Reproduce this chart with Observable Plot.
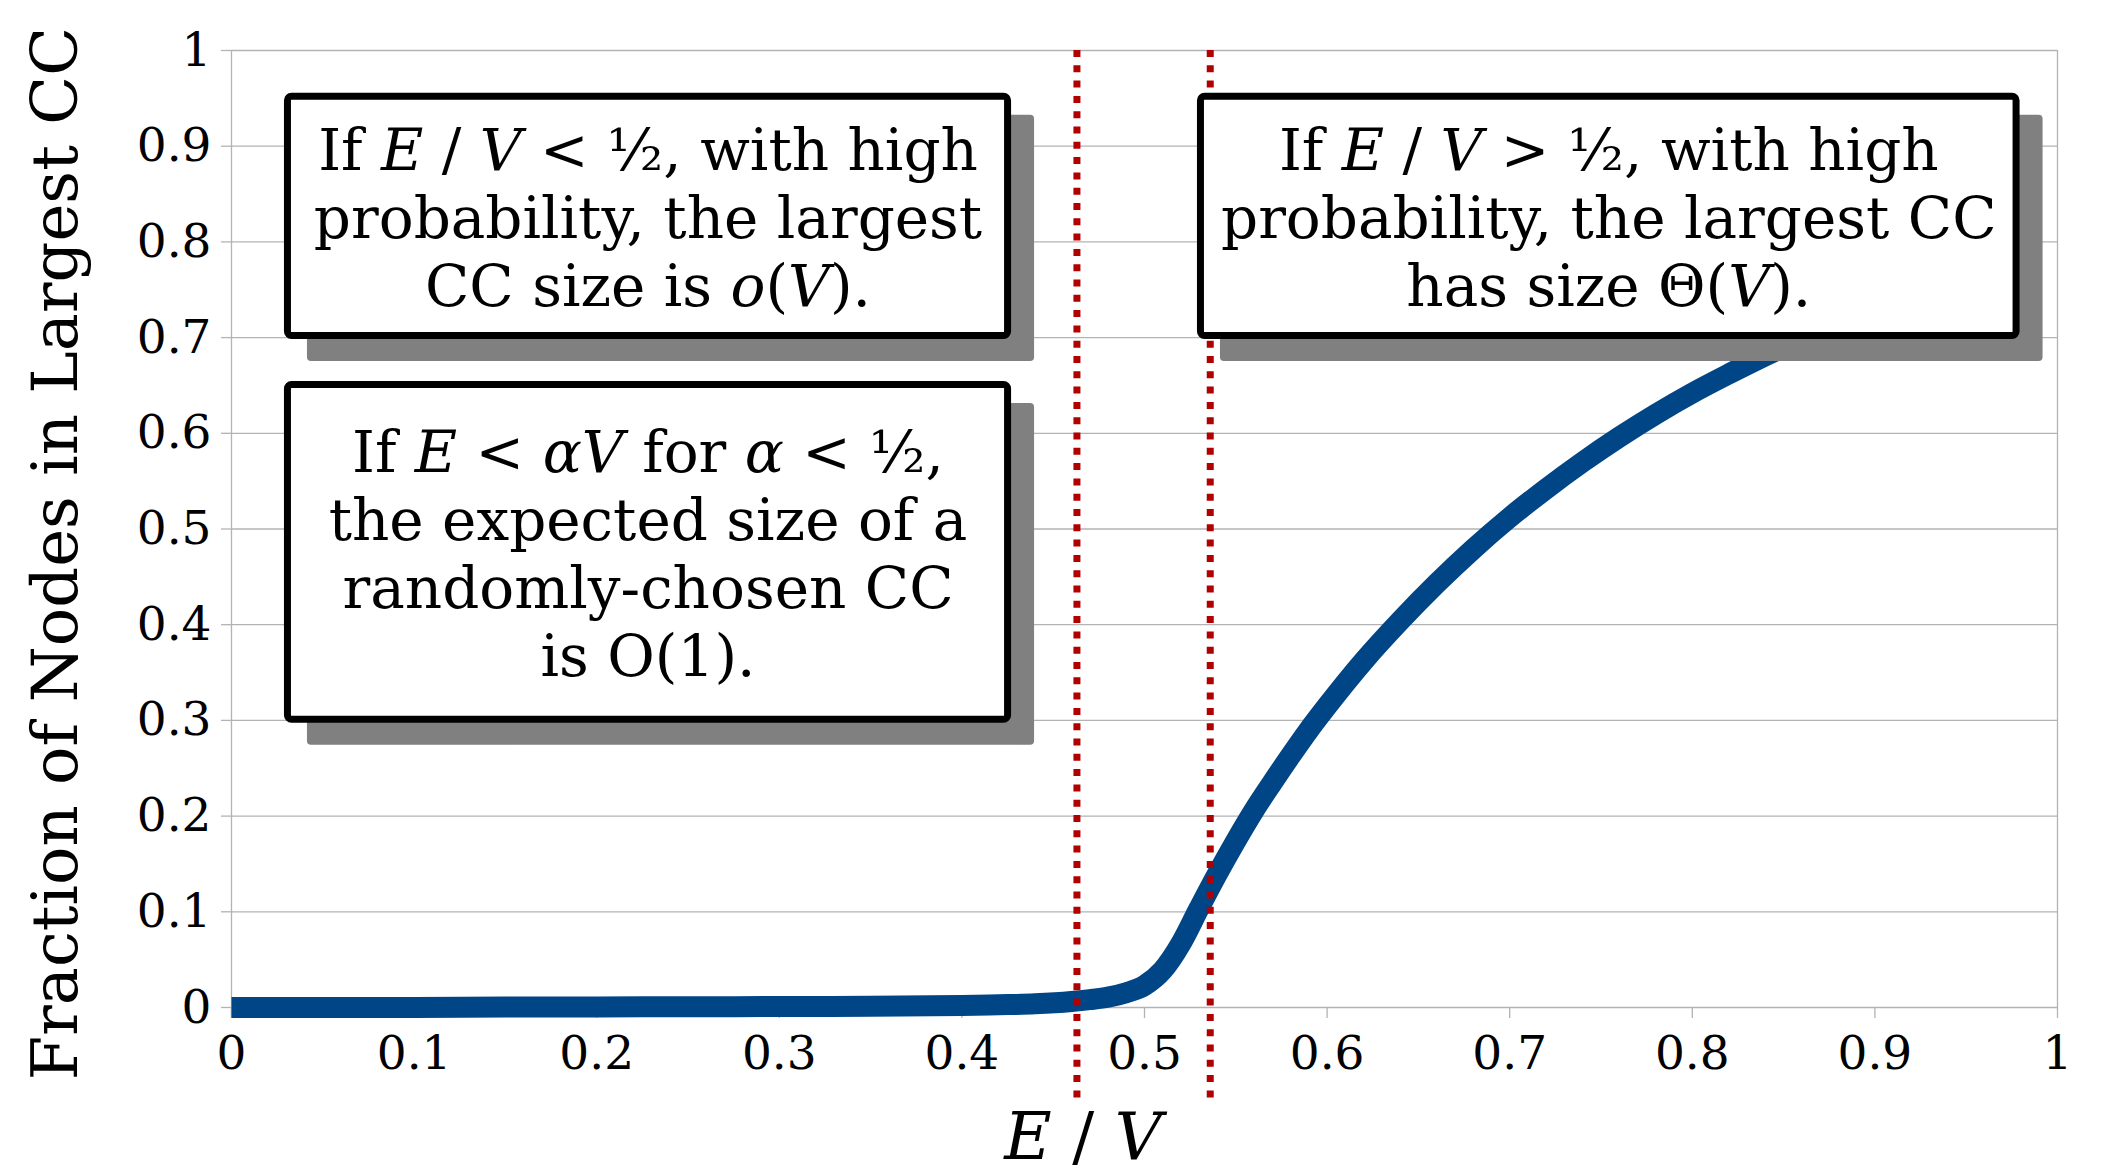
<!DOCTYPE html>
<html>
<head>
<meta charset="utf-8">
<script src="https://cdn.jsdelivr.net/npm/d3@7"></script>
<script src="https://cdn.jsdelivr.net/npm/@observablehq/plot@0.6"></script>
<style>
  html, body { margin: 0; padding: 0; background: #ffffff; }
  #chart svg { display: block; }
</style>
</head>
<body>
<div id="chart"></div>
<script>
// ---- data ----
const edgeRatio = [0, 0.05, 0.1, 0.15, 0.2, 0.25, 0.3, 0.35, 0.4, 0.42, 0.44, 0.46, 0.47, 0.48, 0.49, 0.5,
  0.51, 0.52, 0.53, 0.54, 0.55, 0.56, 0.57, 0.58, 0.59, 0.6, 0.62, 0.64, 0.66, 0.68, 0.7, 0.72, 0.74,
  0.76, 0.78, 0.8, 0.82, 0.84, 0.86, 0.88, 0.9, 0.92, 0.94, 0.96];
const ccFraction = [0, 0, 0, 0.0005, 0.0006, 0.0008, 0.001, 0.0013, 0.002, 0.0028, 0.0038, 0.0062, 0.0082, 0.0108, 0.0155, 0.023,
  0.039, 0.067, 0.104, 0.14, 0.174, 0.206, 0.235, 0.263, 0.290, 0.315, 0.362, 0.404, 0.443, 0.479, 0.512, 0.542, 0.570,
  0.596, 0.620, 0.642, 0.662, 0.681, 0.699, 0.716, 0.732, 0.747, 0.761, 0.774];

const xTicks = [0, 0.1, 0.2, 0.3, 0.4, 0.5, 0.6, 0.7, 0.8, 0.9, 1];
const xTickLabels = ["0", "0.1", "0.2", "0.3", "0.4", "0.5", "0.6", "0.7", "0.8", "0.9", "1"];
const yTicks = [0, 0.1, 0.2, 0.3, 0.4, 0.5, 0.6, 0.7, 0.8, 0.9, 1];
const yTickLabels = ["0", "0.1", "0.2", "0.3", "0.4", "0.5", "0.6", "0.7", "0.8", "0.9", "1"];

const thresholds = [0.463, 0.536];

const xLabel = "*E* / *V*";
const yLabel = "Fraction of Nodes in Largest CC";

// annotation texts (*...* = italic)
const noteTexts = [
  "If *E* / *V* < ½, with high\nprobability, the largest\nCC size is *o*(*V*).",
  "If *E* < *αV* for *α* < ½,\nthe expected size of a\nrandomly-chosen CC\nis O(1).",
  "If *E* / *V* > ½, with high\nprobability, the largest CC\nhas size Θ(*V*)."
];
// annotation placement (data units)
const noteLeft = [0.029, 0.029, 0.529];
const noteRight = [0.4272, 0.4272, 0.9795];
const noteTop = [0.9554, 0.6541, 0.9554];
const noteBottom = [0.698, 0.2971, 0.698];

// ---- build tables ----
const curve = edgeRatio.map((x, i) => ({x, y: ccFraction[i]}));
const notes = noteTexts.map((text, i) => ({
  text,
  x1: noteLeft[i], x2: noteRight[i],
  y1: noteBottom[i], y2: noteTop[i],
  cx: (noteLeft[i] + noteRight[i]) / 2,
  cy: (noteBottom[i] + noteTop[i]) / 2
}));

const gray = "#b3b3b3";

const svg = Plot.plot({
  width: 2111,
  height: 1176,
  marginLeft: 231,
  marginRight: 54,
  marginTop: 50,
  marginBottom: 169,
  style: {fontFamily: "'DejaVu Serif', serif", fontSize: "47px", background: "#ffffff", color: "black"},
  x: {domain: [0, 1]},
  y: {domain: [0, 1]},
  marks: [
    Plot.gridY(yTicks, {stroke: gray, strokeOpacity: 1, strokeWidth: 1.3}),
    Plot.ruleX([0], {y1: -0.0115, y2: 1, stroke: gray, strokeWidth: 1.3}),
    Plot.ruleX([1], {y1: 0, y2: 1, stroke: gray, strokeWidth: 1.3}),
    Plot.axisY(yTicks, {
      tickSize: 10, tickPadding: 10, stroke: gray, strokeWidth: 1.3, color: "black",
      fontSize: 47, label: null,
      tickFormat: d => yTickLabels[yTicks.indexOf(d)]
    }),
    Plot.axisX(xTicks, {
      tickSize: 11, tickPadding: 17, stroke: gray, strokeWidth: 1.3, color: "black",
      fontSize: 47, label: null,
      tickFormat: d => xTickLabels[xTicks.indexOf(d)]
    }),
    Plot.line(curve, {
      x: "x", y: "y", stroke: "#004586", strokeWidth: 21, curve: "monotone-x",
      strokeLinejoin: "round", strokeLinecap: "butt"
    }),
    Plot.ruleX(thresholds, {
      y1: 1, y2: -0.1, stroke: "#b00000", strokeWidth: 7, strokeDasharray: "7 8.3"
    }),
    Plot.rect(notes, {x1: "x1", x2: "x2", y1: "y1", y2: "y2", fill: "#808080", rx: 4, dx: 23, dy: 22}),
    Plot.rect(notes, {
      x1: "x1", x2: "x2", y1: "y1", y2: "y2", fill: "white",
      stroke: "black", strokeWidth: 7, inset: 3.5, rx: 4
    }),
    Plot.text(notes, {
      x: "cx", y: "cy", text: "text", fontSize: 58, lineHeight: 68 / 58,
      lineAnchor: "middle", textAnchor: "middle", fill: "black"
    }),
    Plot.text([xLabel], {
      text: d => d, frameAnchor: "bottom", lineAnchor: "bottom", textAnchor: "middle",
      fontSize: 65, dx: -61.5, dy: 151, fill: "black"
    }),
    Plot.text([yLabel], {
      text: d => d, frameAnchor: "left", lineAnchor: "middle", textAnchor: "middle",
      rotate: -90, fontSize: 64, dx: -175, dy: 24.5, fill: "black"
    })
  ]
});

// italic segments marked with *...*
const SVGNS = "http://www.w3.org/2000/svg";
function italicize(node) {
  const s = node.textContent;
  if (!s.includes("*")) return;
  node.textContent = "";
  s.split("*").forEach((seg, i) => {
    if (!seg) return;
    if (i % 2) {
      const ts = document.createElementNS(SVGNS, "tspan");
      ts.setAttribute("font-style", "italic");
      ts.textContent = seg;
      node.appendChild(ts);
    } else {
      node.appendChild(document.createTextNode(seg));
    }
  });
}
svg.querySelectorAll("text").forEach(t => {
  const spans = t.querySelectorAll("tspan");
  if (spans.length) spans.forEach(italicize); else italicize(t);
});

document.getElementById("chart").appendChild(svg);
</script>
</body>
</html>
